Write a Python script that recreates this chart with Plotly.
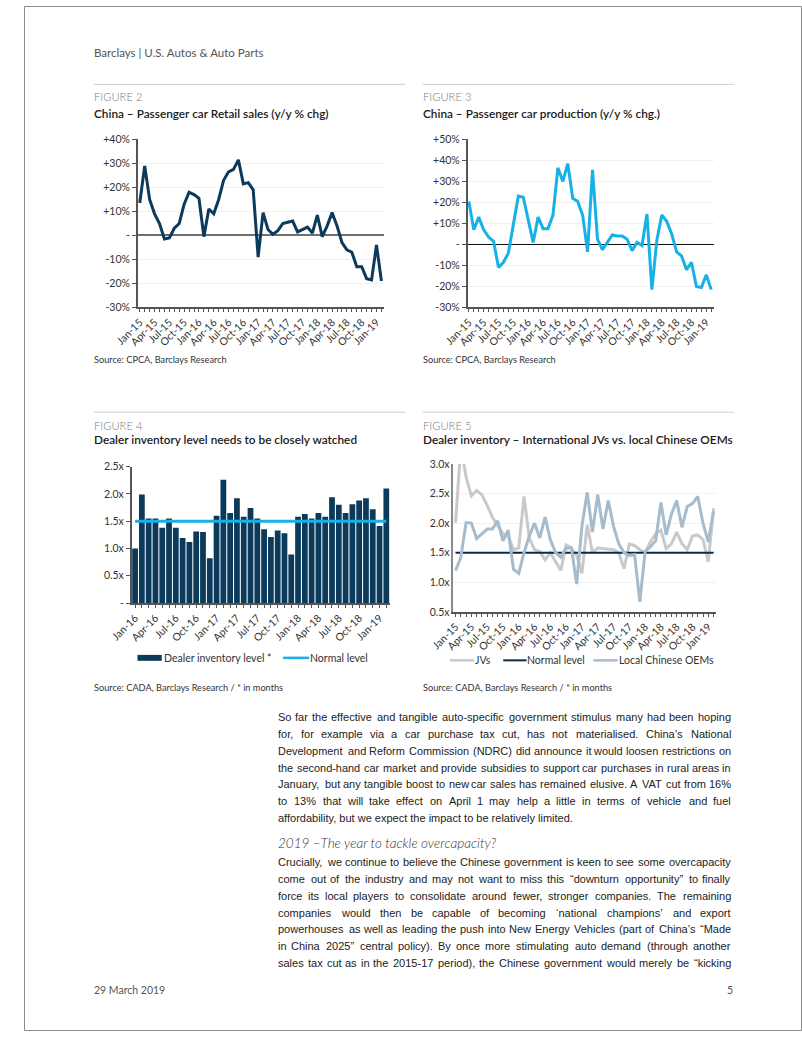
import plotly.graph_objects as go

W, H = 802, 1037
def px(x): return x / W
def py(y): return 1 - y / H

# ---------------- data ----------------
mon = ['Jan', 'Feb', 'Mar', 'Apr', 'May', 'Jun', 'Jul', 'Aug', 'Sep', 'Oct', 'Nov', 'Dec']
months_15 = [f"{m}-{y}" for y in ['15', '16', '17', '18', '19'] for m in mon][:50]   # Jan-15 .. Feb-19
months_16 = [f"{m}-{y}" for y in ['16', '17', '18', '19'] for m in mon][:38]         # Jan-16 .. Feb-19

retail_sales = [13.5, 29, 15, 9, 5, -1.5, -1, 3, 5, 13,
                18, 17, 15.5, -0.5, 11, 9, 15, 23, 26.5, 27.5,
                31.5, 21.5, 22, 19, -9, 9.5, 2.5, 0.5, 2, 5,
                5.5, 6, 1.5, 2.5, 3.5, 1, 8.5, -0.5, 4, 9.5,
                4, -3, -6, -7, -13, -13, -18, -18.5, -4, -19]

production = [20.5, 7, 13, 7, 3.5, 1.5, -11, -8.5, -4, 10,
              23, 22.5, 12, 1, 13, 7.5, 7.5, 14, 36.5, 30,
              38.5, 22, 20.5, 14, -3.5, 35.5, 2.5, -2.5, 1, 4.5,
              4, 4, 2.5, -3, 1, -0.5, 14.5, -21.5, 2, 14,
              11, 5, -3.5, -5.5, -12, -8.5, -20, -20.5, -14.5, -21.5]

dealer_inventory = [1.00, 1.99, 1.55, 1.55, 1.38, 1.55, 1.38, 1.19, 1.12, 1.31, 1.30, 0.82,
                    1.60, 2.26, 1.65, 1.92, 1.58, 1.74, 1.55, 1.35, 1.21, 1.33, 1.28, 0.89,
                    1.58, 1.63, 1.55, 1.65, 1.58, 1.94, 1.80, 1.65, 1.81, 1.88, 1.92, 1.72,
                    1.41, 2.10]
normal_level_16 = [1.5] * len(months_16)

jvs = [2.01, 3.3, 2.78, 2.46, 2.55, 2.48, 2.3, 2.1, 1.96, 1.82,
       1.78, 1.55, 1.58, 2.45, 1.75, 1.55, 1.52, 1.38, 1.5, 1.35,
       1.2, 1.63, 1.58, 1.45, 1.15, 1.97, 1.5, 1.58, 1.57, 1.55,
       1.55, 1.5, 1.23, 1.65, 1.62, 1.55, 1.5, 1.68, 1.82, 1.88,
       1.57, 1.65, 1.85, 1.65, 1.55, 1.78, 1.8, 1.72, 1.35, 2.25]
local_oems = [1.2, 1.42, 2.01, 2.0, 1.74, 1.82, 1.9, 1.9, 2.04, 1.7,
              1.88, 1.22, 1.15, 1.5, 1.78, 2.0, 1.75, 2.1, 1.72, 1.5,
              1.42, 1.58, 1.58, 0.97, 1.95, 2.52, 1.85, 2.48, 1.9, 2.38,
              1.95, 1.65, 1.5, 1.45, 1.47, 0.67, 1.52, 1.6, 1.7, 2.35,
              1.8, 2.15, 2.38, 1.93, 2.28, 2.33, 2.45, 2.0, 1.68, 2.2]
normal_level_15 = [1.5] * len(months_15)

pct_vals_1 = [-30, -20, -10, 0, 10, 20, 30, 40]
pct_text_1 = ['-30%', '-20%', '-10%', '-', '+10%', '+20%', '+30%', '+40%']
pct_vals_2 = [-30, -20, -10, 0, 10, 20, 30, 40, 50]
pct_text_2 = ['-30%', '-20%', '-10%', '-', '+10%', '+20%', '+30%', '+40%', '+50%']
inv_vals_3 = [0, 0.5, 1.0, 1.5, 2.0, 2.5]
inv_text_3 = ['-', '0.5x', '1.0x', '1.5x', '2.0x', '2.5x']
inv_vals_4 = [0.5, 1.0, 1.5, 2.0, 2.5, 3.0]
inv_text_4 = ['0.5x', '1.0x', '1.5x', '2.0x', '2.5x', '3.0x']

para1 = [
    'So far the effective and tangible auto-specific government stimulus many had been hoping',
    'for, for example via a car purchase tax cut, has not materialised. China’s National',
    'Development and Reform Commission (NDRC) did announce it would loosen restrictions on',
    'the second-hand car market and provide subsidies to support car purchases in rural areas in',
    'January, but any tangible boost to new car sales has remained elusive. A VAT cut from 16%',
    'to 13% that will take effect on April 1 may help a little in terms of vehicle and fuel',
    'affordability, but we expect the impact to be relatively limited.',
]
heading = '2019 –The year to tackle overcapacity?'
para2 = [
    'Crucially, we continue to believe the Chinese government is keen to see some overcapacity',
    'come out of the industry and may not want to miss this “downturn opportunity” to finally',
    'force its local players to consolidate around fewer, stronger companies. The remaining',
    'companies would then be capable of becoming ‘national champions’ and export',
    'powerhouses as well as leading the push into New Energy Vehicles (part of China’s “Made',
    'in China 2025” central policy). By once more stimulating auto demand (through another',
    'sales tax cut as in the 2015-17 period), the Chinese government would merely be “kicking',
]

def quarter_labels(cats):
    return [c if c[:3] in ('Jan', 'Apr', 'Jul', 'Oct') else '' for c in cats]

NAVY = '#0c3a5b'
CYAN = '#16b1e6'
AX = '#555555'
FONT = 'Lato'
BODY_FONT = 'Liberation Sans'

fig = go.Figure()
fig.add_trace(go.Scatter(x=months_15, y=retail_sales, mode='lines', name='Retail sales y/y',
                         line=dict(color=NAVY, width=3), xaxis='x', yaxis='y'))
fig.add_trace(go.Scatter(x=months_15, y=production, mode='lines', name='Production y/y',
                         line=dict(color=CYAN, width=3), xaxis='x2', yaxis='y2'))
fig.add_trace(go.Bar(x=months_16, y=dealer_inventory, name='Dealer inventory level *',
                     marker=dict(color=NAVY, line=dict(width=0)), xaxis='x3', yaxis='y3'))
fig.add_trace(go.Scatter(x=months_16, y=normal_level_16, mode='lines', name='Normal level',
                         line=dict(color=CYAN, width=3), xaxis='x3', yaxis='y3'))
fig.add_trace(go.Scatter(x=months_15, y=jvs, mode='lines', name='JVs',
                         line=dict(color='#c9c9c9', width=3), xaxis='x4', yaxis='y4'))
fig.add_trace(go.Scatter(x=months_15, y=normal_level_15, mode='lines', name='Normal level',
                         line=dict(color='#0b2a44', width=2), xaxis='x4', yaxis='y4'))
fig.add_trace(go.Scatter(x=months_15, y=local_oems, mode='lines', name='Local Chinese OEMs',
                         line=dict(color='#a6bccc', width=3), xaxis='x4', yaxis='y4'))

tickfont = dict(family=FONT, size=10.5, color='#333333')

def xax(domain, cats, rng, anchor):
    return dict(domain=[px(domain[0]), px(domain[1])], type='category', range=rng,
                tickmode='array', tickvals=cats, ticktext=quarter_labels(cats),
                tickangle=-45, ticks='outside', ticklen=3, tickcolor=AX, tickwidth=1,
                showline=True, linecolor=AX, linewidth=1.5, showgrid=False, zeroline=False,
                tickfont=tickfont, anchor=anchor, fixedrange=True)

def yax(domain, vals, text, rng, anchor, grid=True, zl=None, linecolor=AX, ticks='outside'):
    d = dict(domain=[py(domain[1]), py(domain[0])], range=rng, tickmode='array',
             tickvals=vals, ticktext=text, ticks=ticks, ticklen=4, tickcolor=linecolor,
             showline=True, linecolor=linecolor, linewidth=1.5,
             showgrid=grid, gridcolor='#f1f1f1', gridwidth=1,
             tickfont=tickfont, anchor=anchor, fixedrange=True, zeroline=False)
    if zl:
        d.update(zeroline=True, zerolinecolor=zl[0], zerolinewidth=zl[1])
    return d

fig.update_layout(
    width=W, height=H, margin=dict(l=0, r=0, t=0, b=0),
    paper_bgcolor='white', plot_bgcolor='white', showlegend=False,
    font=dict(family=FONT, color='#333333'), bargap=0.15,
    xaxis=xax((117.3, 371), months_15, [-0.4, 49.5], 'y'),
    yaxis=yax((135, 305), pct_vals_1, pct_text_1, [-30, 40], 'x', zl=('#6f6f6f', 1.5)),
    xaxis2=xax((457.3, 711), months_15, [-0.25, 49.5], 'y2'),
    yaxis2=yax((135, 305), pct_vals_2, pct_text_2, [-30, 50], 'x2', zl=('#111111', 1.3)),
    xaxis3=xax((111, 377), months_16, [-0.5, 37.5], 'y3'),
    yaxis3=yax((466, 604), inv_vals_3, inv_text_3, [0, 2.5], 'x3', grid=False),
    xaxis4=xax((442.7, 713), months_15, [-0.4, 49.4], 'y4'),
    yaxis4=yax((463.3, 613), inv_vals_4, inv_text_4, [0.5, 3.0], 'x4', linecolor='#8a8a8a', ticks=''),
)

ann = []
def T(x, y, text, size, color='#222222', weight=400, anchor='left', style='normal', family=FONT):
    ann.append(dict(x=px(x), y=py(y), xref='paper', yref='paper', text=text, showarrow=False,
                    xanchor=anchor, yanchor='middle', borderpad=0, borderwidth=0,
                    font=dict(family=family, size=size, color=color, weight=weight, style=style)))

# Liberation Sans (Arial-metric) advance widths, per 1000 em, for justified body text
_w = {' ': 278, ',': 278, '.': 278, '-': 333, '(': 333, ')': 333, '%': 889, '’': 222, '‘': 222,
      '“': 333, '”': 333, ':': 278, '?': 556, '–': 556, '/': 278, '*': 389, "'": 191}
for ch in 'abdeghnopqu': _w[ch] = 556
for ch in 'cksvxyz': _w[ch] = 500
for ch in 'fjt': _w[ch] = 278
_w.update({'i': 222, 'j': 222, 'l': 222, 'm': 833, 'r': 333, 'w': 722, 'f': 278})
for ch in '0123456789': _w[ch] = 556
_w.update({'A': 667, 'B': 667, 'C': 722, 'D': 722, 'E': 667, 'F': 611, 'G': 778, 'H': 722,
           'I': 278, 'J': 500, 'K': 667, 'L': 556, 'M': 833, 'N': 722, 'O': 778, 'P': 667,
           'Q': 778, 'R': 722, 'S': 667, 'T': 611, 'U': 722, 'V': 667, 'W': 944, 'X': 667,
           'Y': 667, 'Z': 611})

BODY_SIZE = 11.0
WIDTH_FUDGE = 1.06   # rendered words come out slightly wider than the nominal metrics
MIN_GAP = 0.25 * BODY_SIZE

def tw(s, size):
    return sum(_w.get(c, 556) for c in s) / 1000 * size * WIDTH_FUDGE

X0, X1 = 262, 729

def body_line(line, y, justify=True):
    if not justify:
        T(X0, y, line, BODY_SIZE, '#222222', family=BODY_FONT)
        return
    words = line.split(' ')
    size = BODY_SIZE
    widths = [tw(w, size) for w in words]
    gap = (X1 - X0 - sum(widths)) / (len(words) - 1)
    if gap < MIN_GAP:
        # too tight: shrink the type of this line slightly so it fits the column
        size = BODY_SIZE * (X1 - X0 - MIN_GAP * (len(words) - 1)) / sum(widths)
        widths = [tw(w, size) for w in words]
        gap = (X1 - X0 - sum(widths)) / (len(words) - 1)
    x = X0
    last = len(words) - 1
    for i, (w, wd) in enumerate(zip(words, widths)):
        if i == 0:
            T(X0, y, w, size, '#222222', family=BODY_FONT)
        elif i == last:
            T(X1, y, w, size, '#222222', anchor='right', family=BODY_FONT)
        else:
            T(x + wd / 2, y, w, size, '#222222', anchor='center', family=BODY_FONT)
        x += wd + gap

T(72, 46.7, 'Barclays | U.S. Autos &amp; Auto Parts', 11.5, '#555555')
T(72, 91.5, 'FIGURE 2', 11.2, '#7a7a7a', 300)
T(72, 109, 'China – Passenger car Retail sales (y/y % chg)', 11.8, '#1a1a1a', 600)
T(411, 91.5, 'FIGURE 3', 11.2, '#7a7a7a', 300)
T(411, 109, 'China – Passenger car production (y/y % chg.)', 11.8, '#1a1a1a', 600)
T(72, 358, 'Source: CPCA, Barclays Research', 9.2, '#333333')
T(411, 358, 'Source: CPCA, Barclays Research', 9.2, '#333333')
T(72, 424, 'FIGURE 4', 11.2, '#7a7a7a', 300)
T(72, 439, 'Dealer inventory level needs to be closely watched', 11.8, '#1a1a1a', 600)
T(411, 424, 'FIGURE 5', 11.2, '#7a7a7a', 300)
T(411, 439, 'Dealer inventory – International JVs vs. local Chinese OEMs', 11.8, '#1a1a1a', 600)
T(72, 689, 'Source: CADA, Barclays Research / * in months', 9.2, '#333333')
T(411, 689, 'Source: CADA, Barclays Research / * in months', 9.2, '#333333')

# legends (text + swatches)
T(144, 659.5, 'Dealer inventory level *', 10.5, '#333333')
T(295, 659.5, 'Normal level', 10.5, '#333333')
T(465, 662, 'JVs', 10.5, '#333333')
T(519, 662, 'Normal level', 10.5, '#333333')
T(613, 662, 'Local Chinese OEMs', 10.5, '#333333')

for i, line in enumerate(para1):
    body_line(line, 719.5 + i * 17, justify=(i < len(para1) - 1))
T(262, 847, heading, 13.5, '#333333', 300, style='italic')
for i, line in enumerate(para2):
    body_line(line, 866 + i * 17.05, justify=True)

T(72, 996, '29 March 2019', 10.5, '#555555')
T(730.5, 996, '5', 10.5, '#555555', anchor='right')

shapes = []
def L(x0, y0, x1, y1, color, width):
    shapes.append(dict(type='line', xref='paper', yref='paper', x0=px(x0), y0=py(y0),
                       x1=px(x1), y1=py(y1), line=dict(color=color, width=width)))
for yy in (79.3, 411):
    L(72, yy, 393, yy, '#cfcfcf', 1)
    L(411, yy, 732, yy, '#cfcfcf', 1)
# legend swatches
shapes.append(dict(type='rect', xref='paper', yref='paper', x0=px(117), x1=px(142),
                   y0=py(662.5), y1=py(656.5), fillcolor=NAVY, line=dict(width=0)))
L(267, 659.5, 294, 659.5, CYAN, 2.5)
L(439, 662, 464, 662, '#c9c9c9', 2.5)
L(494, 662, 518, 662, '#0b2a44', 2)
L(587, 662, 612, 662, '#a6bccc', 2.5)
# page border
shapes.append(dict(type='rect', xref='paper', yref='paper', x0=px(0.5), x1=px(801.5),
                   y0=py(1036.5), y1=py(0.5), line=dict(color='#8c8c8c', width=1)))

fig.update_layout(annotations=ann, shapes=shapes)
fig.write_html('out.html')
